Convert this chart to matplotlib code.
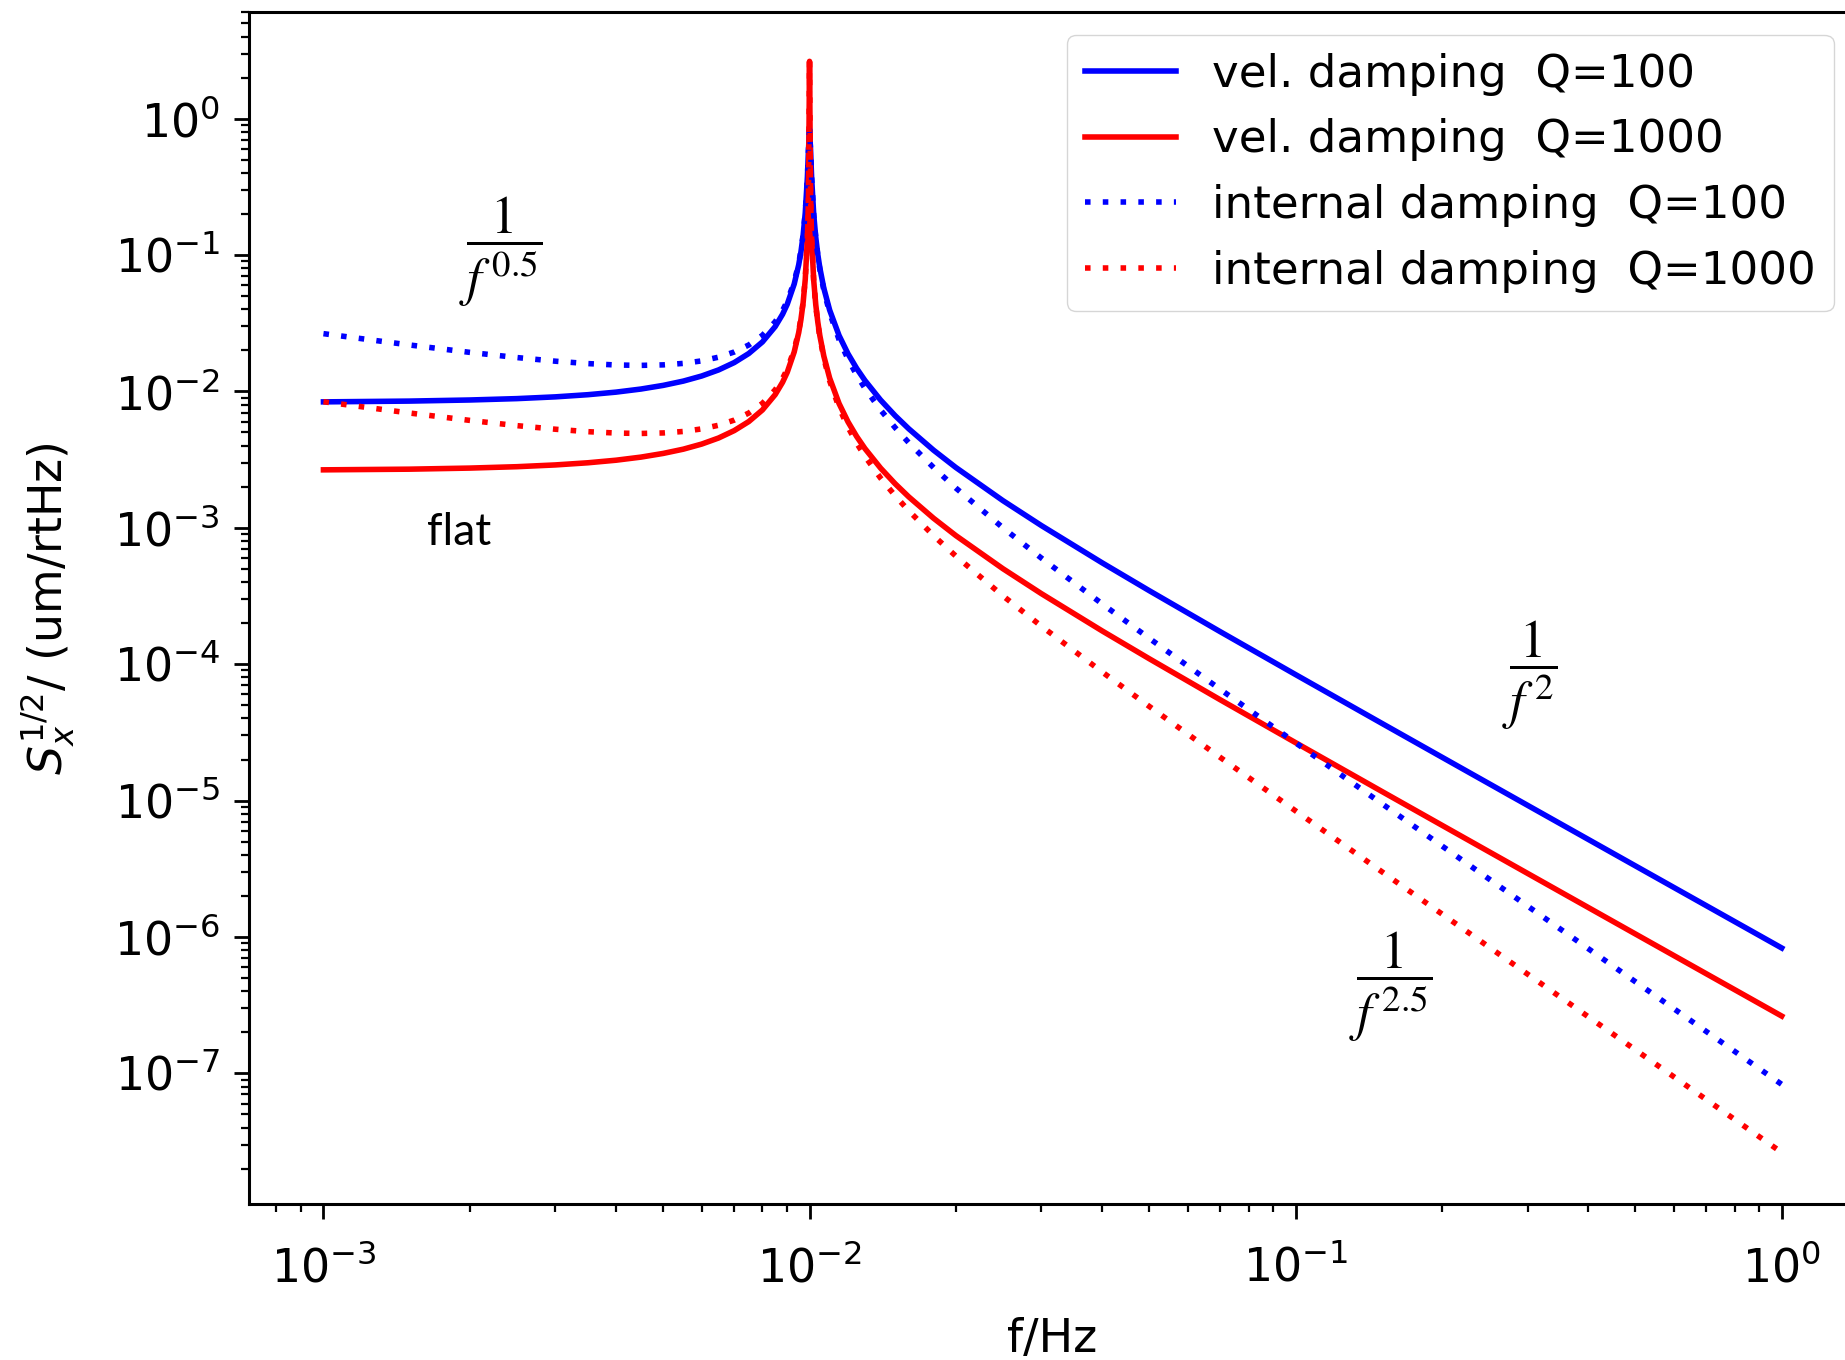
import matplotlib
matplotlib.use("Agg")
import matplotlib.pyplot as plt

# Frequency grid (Hz), denser around the 10 mHz resonance
freq_hz = [0.001, 0.0015, 0.002, 0.0025, 0.003, 0.0035, 0.004, 0.0045, 0.005,
           0.0055, 0.006, 0.0065, 0.007, 0.0075, 0.008, 0.0085, 0.0088, 0.009,
           0.0093, 0.0095, 0.0096, 0.0097, 0.0098, 0.0099, 0.00995, 0.01,
           0.01005, 0.0101, 0.0102, 0.0103, 0.0104, 0.0105, 0.0107, 0.011,
           0.0115, 0.012, 0.0125, 0.013, 0.014, 0.015, 0.016, 0.018, 0.02,
           0.025, 0.03, 0.04, 0.05, 0.07, 0.1, 0.15, 0.2, 0.3, 0.5, 1.0]

# Displacement ASD (um/rtHz), viscous (velocity) damping
vel_q100 = [8.38e-3, 8.49e-3, 8.65e-3, 8.853e-3, 9.12e-3, 9.459e-3, 9.88e-3,
            1.0408e-2, 1.107e-2, 1.190e-2, 1.297e-2, 1.4372e-2, 1.627e-2,
            1.8969e-2, 2.305e-2, 2.99e-2, 3.676e-2, 4.364e-2, 6.129e-2,
            8.473e-2, 0.10508, 0.1386, 0.2035, 0.3734, 0.5891, 0.83, 0.5847,
            0.369, 0.1992, 0.1344, 0.1009, 8.055e-2, 5.713e-2, 3.947e-2,
            2.572e-2, 1.886e-2, 1.4753e-2, 1.203e-2, 8.646e-3, 6.64e-3,
            5.321e-3, 3.705e-3, 2.767e-3, 1.581e-3, 1.0375e-3, 5.533e-4,
            3.458e-4, 1.729e-4, 8.384e-5, 3.705e-5, 2.08e-5, 9.232e-6,
            3.321e-6, 8.301e-7]
vel_q1000 = [2.66e-3, 2.69e-3, 2.74e-3, 2.805e-3, 2.89e-3, 2.997e-3, 3.13e-3,
             3.298e-3, 3.51e-3, 3.771e-3, 4.11e-3, 4.554e-3, 5.16e-3,
             6.011e-3, 7.31e-3, 9.48e-3, 1.1658e-2, 1.384e-2, 1.947e-2,
             2.697e-2, 3.3543e-2, 4.449e-2, 6.64e-2, 0.132, 0.2623, 2.63,
             0.261, 0.1307, 6.508e-2, 4.318e-2, 3.2228e-2, 2.566e-2, 1.815e-2,
             1.252e-2, 8.155e-3, 5.977e-3, 4.676e-3, 3.812e-3, 2.74e-3,
             2.104e-3, 1.686e-3, 1.174e-3, 8.767e-4, 5.01e-4, 3.2875e-4,
             1.753e-4, 1.096e-4, 5.479e-5, 2.657e-5, 1.174e-5, 6.591e-6,
             2.925e-6, 1.052e-6, 2.63e-7]

# Displacement ASD (um/rtHz), internal (structural) damping
int_q100 = [2.651e-2, 2.192e-2, 1.933e-2, 1.771e-2, 1.665e-2, 1.599e-2,
            1.562e-2, 1.5515e-2, 1.565e-2, 1.6045e-2, 1.674e-2, 1.7826e-2,
            1.945e-2, 2.19e-2, 2.577e-2, 3.242e-2, 3.918e-2, 4.598e-2,
            6.353e-2, 8.689e-2, 0.10718, 0.1406, 0.2053, 0.3746, 0.5891, 0.83,
            0.5847, 0.3679, 0.1975, 0.1325, 9.9e-2, 7.865e-2, 5.525e-2,
            3.764e-2, 2.399e-2, 1.722e-2, 1.3196e-2, 1.055e-2, 7.307e-3,
            5.422e-3, 4.206e-3, 2.762e-3, 1.956e-3, 9.999e-4, 5.99e-4,
            2.767e-4, 1.547e-4, 6.536e-5, 2.651e-5, 9.567e-6, 4.651e-6,
            1.6856e-6, 4.697e-7, 8.301e-8]
int_q1000 = [8.40e-3, 6.95e-3, 6.13e-3, 5.611e-3, 5.28e-3, 5.066e-3, 4.95e-3,
             4.916e-3, 4.96e-3, 5.084e-3, 5.31e-3, 5.649e-3, 6.16e-3,
             6.941e-3, 8.17e-3, 1.028e-2, 1.2427e-2, 1.459e-2, 2.019e-2,
             2.767e-2, 3.4234e-2, 4.517e-2, 6.707e-2, 0.1327, 0.263, 2.63,
             0.2604, 0.13, 6.444e-2, 4.255e-2, 3.1602e-2, 2.504e-2, 1.755e-2,
             1.194e-2, 7.605e-3, 5.456e-3, 4.182e-3, 3.343e-3, 2.315e-3,
             1.718e-3, 1.333e-3, 8.751e-4, 6.199e-4, 3.168e-4, 1.898e-4,
             8.767e-5, 4.901e-5, 2.071e-5, 8.401e-6, 3.032e-6, 1.474e-6,
             5.341e-7, 1.488e-7, 2.63e-8]

series_labels = ["vel. damping  Q=100", "vel. damping  Q=1000",
                 "internal damping  Q=100", "internal damping  Q=1000"]

FS = 33
dotted = (0, (1, 2.2))

fig = plt.figure(figsize=(18.45, 13.6), dpi=100)
ax = fig.add_axes([0.1350, 0.1145, 0.8710, 0.8765])

ax.loglog(freq_hz, vel_q100, color="b", lw=4, label=series_labels[0])
ax.loglog(freq_hz, vel_q1000, color="r", lw=4, label=series_labels[1])
ax.loglog(freq_hz, int_q100, color="b", lw=4, ls=dotted, label=series_labels[2])
ax.loglog(freq_hz, int_q1000, color="r", lw=4, ls=dotted, label=series_labels[3])

ax.set_xlim(10 ** -3.153, 10 ** 0.153)
ax.set_ylim(10 ** -7.96, 10 ** 0.78)

ax.set_xlabel("f/Hz", fontsize=FS, labelpad=18)
ax.set_ylabel(r"$S_x^{1/2}$/ (um/rtHz)", fontsize=FS, labelpad=26)

ax.tick_params(which="major", length=11, width=2, labelsize=FS)
ax.tick_params(axis="x", which="major", pad=19)
ax.tick_params(axis="y", which="major", pad=10)
ax.tick_params(which="minor", length=6, width=1.6)
for sp in ax.spines.values():
    sp.set_linewidth(2.2)

leg = ax.legend(loc="upper right", fontsize=32.5)

# Slope annotations
ax.text(2.32e-3, 0.105, r"$\dfrac{1}{f^{\,0.5}}$", math_fontfamily="stix",
        fontsize=38, ha="center", va="center")
ax.text(1.90e-3, 9.3e-4, "flat", family=["Lato", "DejaVu Sans"],
        fontsize=32, ha="center", va="center")
ax.text(0.303, 8.3e-5, r"$\dfrac{1}{f^{\,2}}$", math_fontfamily="stix",
        fontsize=38, ha="center", va="center")
ax.text(0.157, 4.3e-7, r"$\dfrac{1}{f^{\,2.5}}$", math_fontfamily="stix",
        fontsize=38, ha="center", va="center")

fig.savefig("out.png", dpi=100)
